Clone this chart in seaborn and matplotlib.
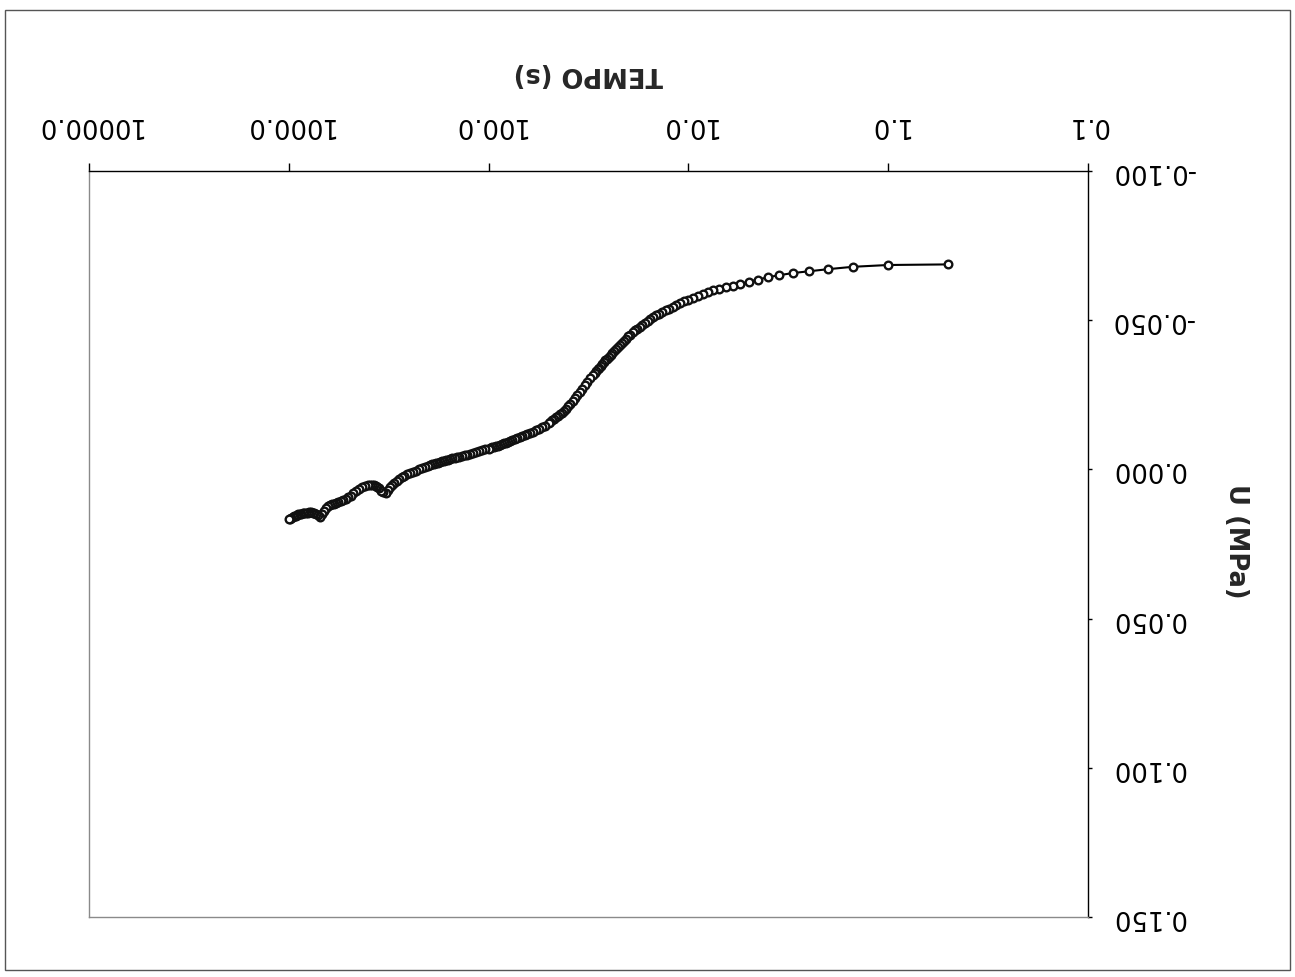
import matplotlib
matplotlib.use("Agg")
import matplotlib.pyplot as plt
import seaborn as sns
import pandas as pd
from matplotlib.patches import Rectangle
from matplotlib.ticker import NullLocator

# ---- data ----
time_s = [
    0.5, 1.0, 1.5, 2.0, 2.5, 3.0, 3.5, 4.0, 4.5, 5.0, 5.5, 6.0, 6.5,
    7.0, 7.5, 8.0, 8.5, 9.0, 9.5, 10.0, 10.5, 11.0, 11.5, 12.0, 12.5, 13.0,
    13.5, 14.0, 14.5, 15.0, 15.5, 16.0, 16.5, 17.0, 17.5, 18.0, 18.5, 19.0,
    19.5, 20.0,
    20.5, 21.0, 21.5, 22.0, 22.5, 23.0, 23.5, 24.0, 24.5, 25.0, 25.5, 26.0,
    26.5, 27.0, 27.5, 28.0, 28.5, 29.0, 29.5, 30.0,
    31, 32, 33, 34, 35, 36, 37, 38, 39, 40, 41, 42, 43, 44, 45, 46, 47, 48,
    49, 50,
    52, 54, 56, 58, 60, 62, 64, 66, 68, 70, 72, 74, 76, 78, 80, 82, 84, 86,
    88, 90, 92, 94, 96, 98, 100,
    104, 108, 112, 116, 120, 124, 128, 132, 136, 140, 144, 148, 152, 156,
    160, 164, 168, 172, 176, 180, 184, 188, 192, 196, 200,
    208, 216, 224, 232, 240, 248, 256, 264, 272, 280, 288, 296, 304, 312,
    320, 328, 336, 344, 352, 360, 368, 376, 384, 392, 400,
    415, 430, 445, 460, 475, 490, 505, 520, 535, 550, 565, 580, 595, 610,
    625, 640, 655, 670, 685, 700, 715, 730, 745, 760, 775, 790, 805, 820,
    835, 850, 865, 880, 895, 910, 925, 940, 955, 970, 985, 1000,
]

u_mpa = [
    -0.0687, -0.0685, -0.0679, -0.0671, -0.0664, -0.0658, -0.0651, -0.0644,
    -0.0636, -0.0629, -0.0622, -0.0616, -0.0611,
    -0.0606, -0.0600, -0.0594, -0.0587, -0.0581, -0.0575, -0.0569, -0.0563,
    -0.0557, -0.0551, -0.0545, -0.0539, -0.0533, -0.0528, -0.0522, -0.0516,
    -0.0510, -0.0504, -0.0498, -0.0491, -0.0485, -0.0478, -0.0472, -0.0466,
    -0.0459, -0.0452, -0.0446,
    -0.0438, -0.0431, -0.0424, -0.0417, -0.0410, -0.0403, -0.0396, -0.0390,
    -0.0383, -0.0377, -0.0371, -0.0365, -0.0359, -0.0353, -0.0347, -0.0341,
    -0.0335, -0.0329, -0.0323, -0.0318,
    -0.0306, -0.0294, -0.0282, -0.0270, -0.0259, -0.0248, -0.0238, -0.0228,
    -0.0219, -0.0211, -0.0203, -0.0196, -0.0190, -0.0184, -0.0179, -0.0174,
    -0.0169, -0.0165, -0.0160, -0.0155,
    -0.0147, -0.0142, -0.0136, -0.0131, -0.0126, -0.0122, -0.0118, -0.0115,
    -0.0111, -0.0108, -0.0105, -0.0101, -0.0097, -0.0095, -0.0092, -0.0089,
    -0.0087, -0.0084, -0.0082, -0.0080, -0.0078, -0.0076, -0.0074, -0.0072,
    -0.0070,
    -0.0067, -0.0064, -0.0060, -0.0057, -0.0055, -0.0052, -0.0049, -0.0047,
    -0.0045, -0.0043, -0.0041, -0.0039, -0.0037, -0.0034, -0.0032, -0.0030,
    -0.0028, -0.0027, -0.0025, -0.0023, -0.0021, -0.0019, -0.0017, -0.0015,
    -0.0013,
    -0.0008, -0.0004, 0.0000, 0.0004, 0.0009, 0.0013, 0.0017, 0.0022, 0.0027,
    0.0033, 0.0040, 0.0047, 0.0053, 0.0060, 0.0070, 0.0078, 0.0077, 0.0071,
    0.0064, 0.0059, 0.0056, 0.0053, 0.0052, 0.0052, 0.0053,
    0.0056, 0.0060, 0.0065, 0.0072, 0.0080, 0.0088, 0.0093, 0.0098, 0.0102,
    0.0106, 0.0109, 0.0112, 0.0115, 0.0117, 0.0119, 0.0122, 0.0128, 0.0138,
    0.0150, 0.0158, 0.0154, 0.0150, 0.0147, 0.0145, 0.0144, 0.0144, 0.0145,
    0.0145, 0.0146, 0.0147, 0.0148, 0.0150, 0.0151, 0.0153, 0.0155, 0.0157,
    0.0159, 0.0162, 0.0165, 0.0167,
]

x_ticks = [0.1, 1, 10, 100, 1000, 10000]
x_tick_labels = ["0.1", "1.0", "10.0", "100.0", "1000.0", "10000.0"]
y_ticks = [-0.100, -0.050, 0.000, 0.050, 0.100, 0.150]
y_tick_labels = ["-0.100", "-0.050", "0.000", "0.050", "0.100", "0.150"]
x_label = "TEMPO (s)"
y_label = "U (MPa)"

# ---- style ----
sns.set_style("white")
plt.rcParams["font.family"] = ["DejaVu Sans"]

W, H = 1295, 977
fig = plt.figure(figsize=(W / 100, H / 100), dpi=100)
ax = fig.add_axes([89 / W, 1 - 917 / H, 999 / W, 746 / H])

df = pd.DataFrame({"t": time_s, "u": u_mpa})
sns.lineplot(data=df, x="t", y="u", ax=ax, color="black", lw=1.5,
             marker="o", markersize=5.5, markerfacecolor="white",
             markeredgecolor="#111111", markeredgewidth=1.7, legend=False)

ax.set_xscale("log")
ax.set_xlim(10000, 0.1)
ax.set_ylim(0.15, -0.1)

# x axis on top, labels upside down
ax.xaxis.tick_top()
ax.set_xticks(x_ticks)
ax.set_xticklabels(x_tick_labels, rotation=180)
ax.xaxis.set_minor_locator(NullLocator())
ax.tick_params(axis="x", which="major", direction="out", length=6, width=1,
               pad=18, labelsize=18.5, colors="black",
               top=True, bottom=False, labeltop=True, labelbottom=False)

# y axis on right, labels upside down
ax.yaxis.tick_right()
ax.set_yticks(y_ticks)
ax.set_yticklabels(y_tick_labels, rotation=180)
ax.tick_params(axis="y", direction="out", length=3, width=1, pad=13.5,
               labelsize=18.5, colors="black",
               right=True, left=False, labelright=True, labelleft=False)
for lab in ax.get_yticklabels():
    lab.set_va("center")

ax.set_xlabel(x_label, fontsize=18.5, fontweight="bold", rotation=180)
ax.xaxis.set_label_position("top")
ax.xaxis.set_label_coords(0.5, 1 + (171 - 74) / 746)
ax.xaxis.label.set_va("center")
ax.xaxis.label.set_ha("center")

ax.set_ylabel(y_label, fontsize=18.5, fontweight="bold", rotation=270)
ax.yaxis.set_label_position("right")
ax.yaxis.set_label_coords((1236 - 89) / 999, (917 - 541) / 746)
ax.yaxis.label.set_va("center")
ax.yaxis.label.set_ha("center")

ax.grid(False)
for side in ["top", "right"]:
    ax.spines[side].set_color("black")
    ax.spines[side].set_linewidth(1.0)
for side in ["left", "bottom"]:
    ax.spines[side].set_color("#8a8a8a")
    ax.spines[side].set_linewidth(1.0)

# outer scan frame
fig.patches.append(Rectangle((5 / W, 7 / H), 1285 / W, 960 / H,
                             transform=fig.transFigure, fill=False,
                             edgecolor="#555555", linewidth=1.0))

fig.savefig("out.png", dpi=100)
